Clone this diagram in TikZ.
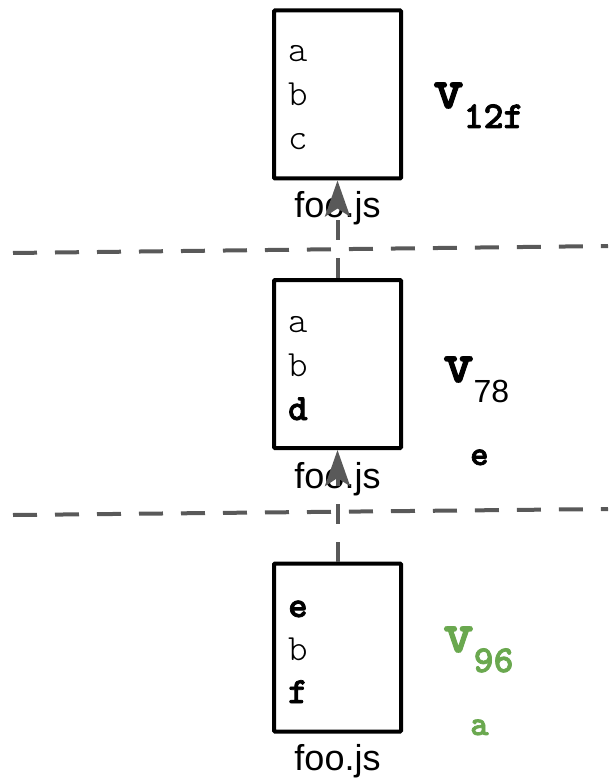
\documentclass[tikz,border=0pt]{standalone}
\usepackage{fontspec}
\setmainfont{Liberation Sans}
\newfontfamily\cour{lmmonolt10-regular.otf}[BoldFont=lmmonolt10-bold.otf, BoldFeatures={FakeBold=2}]
\usetikzlibrary{arrows.meta}
\definecolor{linegray}{HTML}{595959}
\definecolor{vgreen}{HTML}{6AA84F}
\tikzset{
	filebox/.style={draw, line width=4pt, rounded corners=1pt, inner sep=0pt, minimum width=127pt, minimum height=168pt},
	lineplain/.style={anchor=base west, inner sep=0pt, font=\cour\fontsize{37}{37}\selectfont},
	linebold/.style={anchor=base west, inner sep=0pt, font=\cour\bfseries\fontsize{37}{37}\selectfont},
	filename/.style={anchor=base, inner sep=0pt, font=\fontsize{36}{36}\selectfont},
	version/.style={anchor=base west, inner sep=0pt, font=\cour\bfseries\fontsize{58}{58}\selectfont},
	author/.style={anchor=base west, inner sep=0pt, font=\cour\bfseries\fontsize{35}{35}\selectfont},
	separator/.style={line width=4pt, color=linegray, dash pattern=on 24pt off 18pt},
	history/.style={line width=4pt, color=linegray, dash pattern=on 20pt off 18pt, -{Stealth[length=36pt, width=25pt, inset=8pt]}}
}
\newcommand{\sub}[1]{\raisebox{-20pt}{\fontsize{38}{38}\selectfont #1}}

\begin{document}
\begin{tikzpicture}[x=1pt, y=-1pt]
		%%%%% START %%%%%
		\useasboundingbox (0, 0) rectangle (608, 783);
		
		% version 12f
		\node[filebox] (f1) at (337.5, 94.5) {};
		\node[lineplain] (f1a) at (288, 62) {a};
		\node[lineplain] (f1b) at (288, 106) {b};
		\node[lineplain] (f1c) at (288, 150) {c};
		\node[filename] (n1) at (337.5, 218) {foo.js};
		\node[version] (v1) at (433, 108) {v\sub{12f}};
		
		\draw[separator] (13, 253) -- (608, 246);
		
		% version 78
		\node[filebox] (f2) at (337.5, 364) {};
		\node[lineplain] (f2a) at (288, 332) {a};
		\node[lineplain] (f2b) at (288, 376) {b};
		\node[linebold] (f2d) at (288, 420) {d};
		\node[filename] (n2) at (337.5, 488) {foo.js};
		\node[version] (v2) at (443, 382) {v\sub{\normalfont\fontsize{32}{32}\selectfont 78}};
		\node[author] (u2) at (470, 465) {e};
		
		\draw[separator] (13, 515) -- (608, 509);
		
		% version 96
		\node[filebox] (f3) at (337.5, 647.5) {};
		\node[linebold] (f3e) at (288, 617) {e};
		\node[lineplain] (f3b) at (288, 660) {b};
		\node[linebold] (f3f) at (288, 703) {f};
		\node[filename] (n3) at (337.5, 770) {foo.js};
		\node[version, color=vgreen] (v3) at (443, 652) {v\sub{96}};
		\node[author, color=vgreen] (u3) at (470, 735) {a};
		
		\draw[history] (f2.north) -- (f1.south);
		\draw[history] (f3.north) -- (f2.south);
		
		%%%%% END %%%%%
	\end{tikzpicture}
\end{document}
